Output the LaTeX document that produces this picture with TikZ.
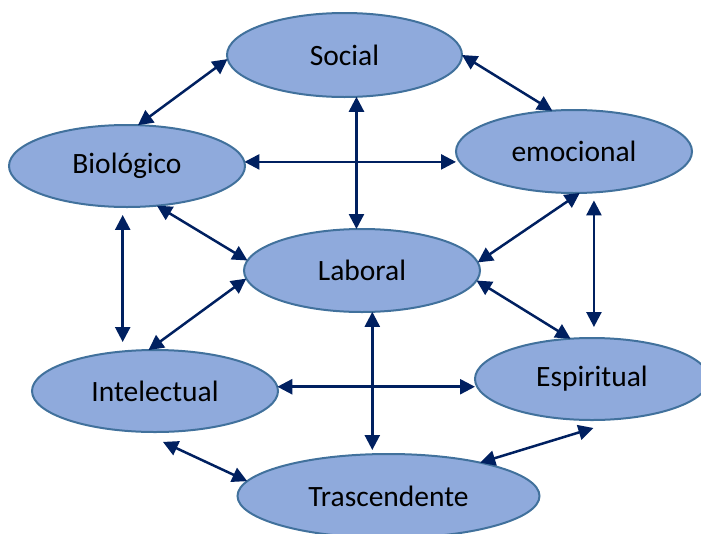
\documentclass[tikz,border=0pt]{standalone}
\usepackage{fontspec}
\setmainfont{Carlito}
\usetikzlibrary{shapes.geometric,arrows.meta}

\definecolor{bubblefill}{HTML}{8FAADC}
\definecolor{bubbleline}{HTML}{41719C}
\definecolor{linknavy}{HTML}{002060}

\tikzset{
  bubble/.style={ellipse, draw=bubbleline, fill=bubblefill, line width=2pt,
    inner sep=0pt, outer sep=0pt, text=black,
    font=\fontsize{29.5}{35}\selectfont},
  link/.style={draw=linknavy, line width=2.5pt,
    {Triangle[length=15pt,width=15pt]}-{Triangle[length=15pt,width=15pt]}}
}

\begin{document}
\begin{tikzpicture}[x=1pt, y=-1pt]
  \clip (0,0) rectangle (701,533);

  % the seven dimensions
  \node[bubble, minimum width=235pt, minimum height=84pt] (soc) at (344.5,55) {Social};
  \node[bubble, minimum width=236pt, minimum height=82pt] (bio) at (127,166) {Biológico};
  \node[bubble, minimum width=236pt, minimum height=83pt] (emo) at (574,151.5) {emocional};
  \node[bubble, minimum width=236pt, minimum height=83pt] (lab) at (362,270.5) {Laboral};
  \node[bubble, minimum width=246pt, minimum height=82pt] (int) at (155,391) {Intelectual};
  \node[bubble, minimum width=234pt, minimum height=82pt] (esp) at (592,379) {Espiritual};
  \node[bubble, minimum width=302pt, minimum height=84pt] (tra) at (388.5,496) {Trascendente};

  % two-way links between dimensions
  \draw[link] (bio.75.6) -- (soc.182.4);
  \draw[link] (soc.0) -- (emo.118.9);
  \draw[link] (soc.286.7) -- (soc.286.7 |- lab.north);
  \draw[link] (bio.2) -- (bio.2 -| emo.west);
  \draw[link] (bio.307.6) -- (lab.175.8);
  \draw[link, shorten <=8pt, shorten >=8pt] (bio.264.4) -- (bio.264.4 |- int.north);
  \draw[link] (lab.184.3) -- (int.99.2);
  \draw[link] (emo.278.2) -- (lab.4.1);
  \draw[link, shorten <=8pt, shorten >=11pt] (emo.296.1) -- (emo.296.1 |- esp.north);
  \draw[link] (lab.355.2) -- (esp.118.2);
  \draw[link] (int.2.8) -- (int.2.8 -| esp.west);
  \draw[link, shorten >=4pt] (lab.284.9) -- (lab.284.9 |- tra.north);
  \draw[link] ([yshift=-10pt]int.281.1) -- (tra.174.4);
  \draw[link] ([yshift=-8pt]esp.272.3) -- (tra.20.9);
\end{tikzpicture}
\end{document}
